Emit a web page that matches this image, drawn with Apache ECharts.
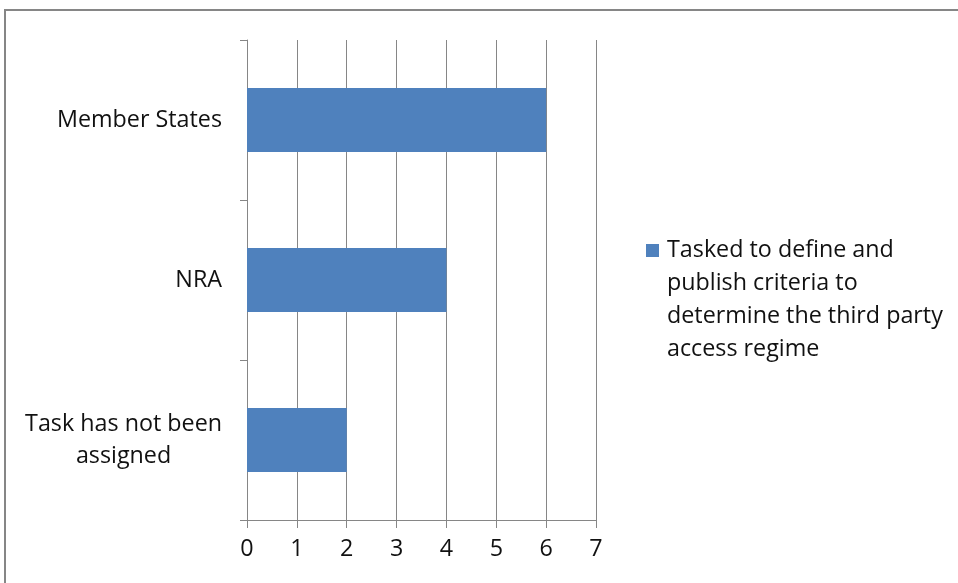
<!DOCTYPE html>
<html>
<head>
<meta charset="utf-8">
<script src="https://cdn.jsdelivr.net/npm/echarts@6/dist/echarts.min.js"></script>
<style>
  html, body { margin: 0; padding: 0; background: #fff; }
  #chart { width: 958px; height: 583px; }
</style>
</head>
<body>
<div id="chart"></div>
<script>
// Categories listed top to bottom
const categories = ['Member States', 'NRA', 'Task has not been assigned'];
const values = [6, 4, 2];
const seriesName = 'Tasked to define and publish criteria to determine the third party access regime';
const legendLines = ['Tasked to define and', 'publish criteria to', 'determine the third party', 'access regime'];
const xTicks = [0, 1, 2, 3, 4, 5, 6, 7];

const FONT = 'Open Sans';
const GRAY = '#868686';
const INK = '#111';
const LEGEND_LINE = 33;

const chart = echarts.init(document.getElementById('chart'));
chart.setOption({
  animation: false,
  backgroundColor: '#fff',
  textStyle: { fontFamily: FONT },
  graphic: [{
    type: 'rect',
    shape: { x: 5, y: 10, width: 1200, height: 1200 },
    style: { fill: 'none', stroke: GRAY, lineWidth: 2 },
    silent: true
  }],
  grid: { left: 247, right: 362, top: 40, bottom: 63, containLabel: false },
  legend: {
    orient: 'vertical',
    left: 641,
    top: 130,
    itemWidth: 13,
    itemHeight: 13,
    itemGap: 0,
    icon: 'rect',
    data: [seriesName],
    // leading blank lines put the first text line level with the swatch
    formatter: () => '\n'.repeat(legendLines.length - 1) + legendLines.join('\n'),
    textStyle: {
      fontFamily: FONT, fontSize: 23.3, color: INK, lineHeight: LEGEND_LINE,
      padding: [0, 0, 0, 3]
    }
  },
  xAxis: {
    type: 'value',
    min: xTicks[0],
    max: xTicks[xTicks.length - 1],
    interval: 1,
    axisLine: { show: true, lineStyle: { color: GRAY, width: 1 } },
    axisTick: { show: true, length: 8, lineStyle: { color: GRAY } },
    splitLine: { show: true, lineStyle: { color: GRAY, width: 1 } },
    axisLabel: { fontFamily: FONT, fontSize: 23.3, color: INK, margin: 18 }
  },
  yAxis: {
    type: 'category',
    inverse: true,
    data: categories,
    axisLine: { show: true, lineStyle: { color: GRAY, width: 1 } },
    axisTick: { show: true, length: 7, lineStyle: { color: GRAY } },
    axisLabel: {
      margin: 25,
      formatter: (v) => {
        const parts = v === 'Task has not been assigned' ? ['Task has not been', 'assigned'] : [v];
        return parts.map(p => '{c|' + p + '}').join('\n');
      },
      rich: {
        c: { fontFamily: FONT, fontSize: 23.3, color: INK, lineHeight: 32, align: 'center' }
      }
    }
  },
  series: [{
    name: seriesName,
    type: 'bar',
    data: values,
    barCategoryGap: '60%',
    itemStyle: { color: '#4F81BD' }
  }]
});
</script>
</body>
</html>
